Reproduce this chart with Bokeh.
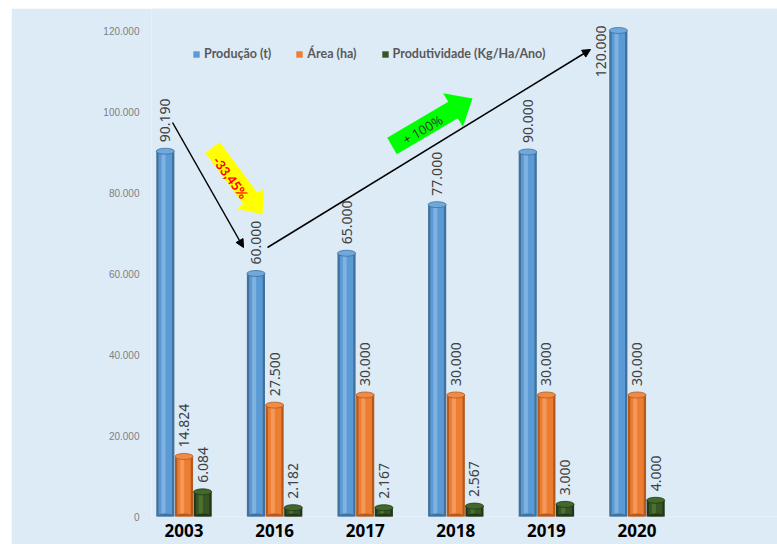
import numpy as np
from bokeh.plotting import figure
from bokeh.models import (Range1d, FixedTicker, Legend, LegendItem, Arrow,
                          NormalHead, ColumnDataSource, Label)
from bokeh.core.properties import value
from bokeh.embed import file_html
from bokeh.resources import INLINE

# ---------------- data ----------------
years = ["2003", "2016", "2017", "2018", "2019", "2020"]
producao = [90190, 60000, 65000, 77000, 90000, 120000]
area = [14824, 27500, 30000, 30000, 30000, 30000]
produtividade = [6084, 2182, 2167, 2567, 3000, 4000]
series_names = ["Produção (t)", "Área (ha)", "Produtividade (Kg/Ha/Ano)"]
y_ticks = [0, 20000, 40000, 60000, 80000, 100000, 120000]
y_tick_labels = ["0", "20.000", "40.000", "60.000", "80.000", "100.000", "120.000"]
drop_label = "-33,45%"
rise_label = "+ 100%"

# ---------------- layout constants (window px) ----------------
OFFX, OFFY = 11, 8               # white page strip left / top
W, H = 777 - OFFX, 544 - OFFY
FRAME_L, FRAME_T, FRAME_R = 151, 8, 777
X0_PX, X_STEP = 183.5, 90.6      # window px of group 0 centre, px per group
Y0_PX, Y_PX_PER_K = 516.0, 4.05  # window px of y=0, px per 1000

x_start = (FRAME_L - X0_PX) / X_STEP
x_end = (FRAME_R - X0_PX) / X_STEP
y_end = (Y0_PX - FRAME_T) / Y_PX_PER_K * 1000


def px2data(px, py):
    return (px - X0_PX) / X_STEP, (Y0_PX - py) / Y_PX_PER_K * 1000


def fmt(v):
    return f"{v:,}".replace(",", ".")


BG = "#DDEBF7"
p = figure(width=W, height=H, output_backend="svg", toolbar_location=None,
           x_range=Range1d(x_start, x_end), y_range=Range1d(0, y_end),
           min_border_left=FRAME_L - OFFX, min_border_right=0,
           min_border_top=FRAME_T - OFFY,
           min_border_bottom=int(OFFY + H - Y0_PX))
p.margin = (OFFY, 0, 0, OFFX)
p.background_fill_color = BG
p.border_fill_color = BG
p.outline_line_color = None
p.xgrid.visible = False
p.ygrid.visible = False

# axes
p.yaxis.ticker = FixedTicker(ticks=y_ticks)
p.yaxis.major_label_overrides = {t: l for t, l in zip(y_ticks, y_tick_labels)}
p.yaxis.axis_line_color = None
p.yaxis.major_tick_line_color = None
p.yaxis.minor_tick_line_color = None
p.yaxis.major_label_standoff = 6
p.yaxis.major_label_text_font = "Liberation Sans"
p.yaxis.major_label_text_font_size = "10px"
p.yaxis.major_label_text_color = "#7F7F7F"

idx = np.arange(len(years))
p.xaxis.ticker = FixedTicker(ticks=list(idx))
p.xaxis.major_label_overrides = {int(i): y for i, y in zip(idx, years)}
p.xaxis.axis_line_color = None
p.xaxis.major_tick_line_color = None
p.xaxis.minor_tick_line_color = None
p.xaxis.major_label_standoff = 1
p.xaxis.major_label_text_font = "Open Sans"
p.xaxis.major_label_text_font_style = "bold"
p.xaxis.major_label_text_font_size = "17px"
p.xaxis.major_label_text_color = "#000000"

# ---------------- cylinders ----------------
BW = 0.2
offsets = [-0.206, 0.0, 0.206]
palettes = [
    ("#5B9BD5", "#41719C", "#8FBCE6", "#6FA8DC"),
    ("#ED7D31", "#B45A1E", "#F6A56C", "#F08A45"),
    ("#375623", "#22371A", "#557F38", "#416A2A"),
]
main_renderers = []
for vals, off, (main, dark, light, cap) in zip([producao, area, produtividade],
                                                offsets, palettes):
    xs = idx + off
    aligns, xoffs, yoffs = [], [], []
    for v in vals:
        if v > 110000:      # label does not fit above -> beside bar
            aligns.append("right"); xoffs.append(-17); yoffs.append(-5)
        else:
            aligns.append("left"); xoffs.append(0); yoffs.append(-9)
    src = ColumnDataSource(dict(x=xs, top=vals, label=[fmt(v) for v in vals],
                                align=aligns, xoff=xoffs, yoff=yoffs))
    p.vbar(x="x", top="top", bottom=0, width=BW, fill_color=dark,
           line_color=None, source=src)
    r = p.vbar(x="x", top="top", bottom=0, width=BW * 0.74, fill_color=main,
               line_color=None, source=src)
    main_renderers.append(r)
    p.vbar(x=xs - BW * 0.1, top=vals, bottom=0, width=BW * 0.22,
           fill_color=light, fill_alpha=0.7, line_color=None)
    p.ellipse(x="x", y=0, width=BW, height=6, height_units="screen",
              fill_color=dark, line_color=None, source=src)
    p.ellipse(x="x", y="top", width=BW, height=6, height_units="screen",
              fill_color=cap, line_color=dark, line_width=0.8, source=src)
    p.text(x="x", y="top", text="label", angle=np.pi / 2, text_align="align",
           text_baseline="middle", x_offset="xoff", y_offset="yoff",
           text_font=value("Noto Sans"), text_font_size="14px",
           text_color="#404040", source=src)

# ---------------- legend ----------------
legend = Legend(items=[LegendItem(label=n, renderers=[r])
                       for n, r in zip(series_names, main_renderers)],
                orientation="horizontal", location=(41, 455),
                glyph_width=8, glyph_height=8, label_standoff=4, spacing=24,
                padding=0, margin=0, border_line_color=None,
                background_fill_alpha=0, label_height=12,
                label_text_font="Lato", label_text_font_style="bold",
                label_text_font_size="12.5px", label_text_color="#595959")
p.add_layout(legend)

# ---------------- annotations ----------------
def arrow(a, b):
    (x0, y0), (x1, y1) = px2data(*a), px2data(*b)
    p.add_layout(Arrow(x_start=x0, y_start=y0, x_end=x1, y_end=y1,
                       line_color="black", line_width=1.5,
                       end=NormalHead(size=8, fill_color="black",
                                      line_color="black")))


arrow((172, 122), (243, 247))
arrow((267, 247), (590, 49))


def block(points, color):
    pts = [px2data(*q) for q in points]
    p.patch([q[0] for q in pts], [q[1] for q in pts], fill_color=color,
            line_color=None)


block([(204.8, 152.4), (242.8, 203.4), (236.4, 208.2), (262, 214),
       (263.6, 187.8), (257.2, 192.6), (219.2, 141.6)], "#FFFF00")
block([(386.7, 137.3), (447.7, 101.3), (442.6, 92.7), (472, 98),
       (462.4, 126.3), (457.3, 117.7), (396.3, 153.7)], "#00FF00")

lx, ly = px2data(230, 177)
p.add_layout(Label(x=lx, y=ly, text=drop_label, angle=-0.93,
                   text_align="center", text_baseline="middle",
                   text_font="Lato", text_font_style="bold",
                   text_font_size="13px", text_color="#FF0000"))
lx, ly = px2data(422, 129)
p.add_layout(Label(x=lx, y=ly, text=rise_label, angle=0.532,
                   text_align="center", text_baseline="middle",
                   text_font="Open Sans", text_font_size="13px",
                   text_color="#333333"))

open("out.html", "w").write(file_html(p, INLINE))
